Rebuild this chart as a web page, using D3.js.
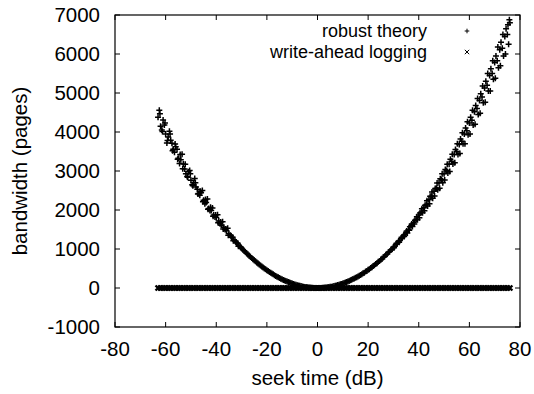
<!DOCTYPE html>
<html>
<head>
<meta charset="utf-8">
<script src="https://cdn.jsdelivr.net/npm/d3@7"></script>
<style>
  body { margin: 0; background: #fff; }
  text { font-family: "Liberation Sans", Arial, sans-serif; fill: #000; }
</style>
</head>
<body>
<script>
// seek time (dB) values for the main sweep
const seekTimes = [-63,-62,-61,-60,-59,-58,-57,-56,-55,-54,-53,-52,-51,-50,-49,-48,-47,-46,-45,-44,
  -43,-42,-41,-40,-39,-38,-37,-36,-35,-34,-33,-32,-31,-30,-29,-28,-27,-26,-25,-24,
  -23,-22,-21,-20,-19,-18,-17,-16,-15,-14,-13,-12,-11,-10,-9,-8,-7,-6,-5,-4,
  -3,-2,-1,0,1,2,3,4,5,6,7,8,9,10,11,12,13,14,15,16,
  17,18,19,20,21,22,23,24,25,26,27,28,29,30,31,32,33,34,35,36,
  37,38,39,40,41,42,43,44,45,46,47,48,49,50,51,52,53,54,55,56,
  57,58,59,60,61,62,63,64,65,66,67,68,69,70,71,72,73,74,75,76];

// robust theory bandwidth at each seek time
const robustBandwidth = [4380,4150,4310,3950,3870,3790,3560,3620,3330,3290,3180,2930,2980,2760,2700,2590,2420,2440,2250,2190,
  2040,1990,1870,1810,1720,1610,1560,1470,1390,1300,1240,1160,1090,1020,955,890,830,768,712,655,
  602,552,500,455,410,370,329,290,256,222,192,164,138,114,92,73,56,41,28,18,
  10,5,1,0,1,5,10,18,29,41,57,75,94,116,141,168,196,228,262,297,
  336,377,420,466,512,563,615,670,726,790,845,915,975,1050,1120,1190,1270,1340,1430,1500,
  1600,1680,1760,1870,1950,2060,2140,2260,2350,2480,2560,2700,2780,2930,3010,3170,3250,3420,3500,3680,
  3760,3950,4030,4230,4300,4520,4600,4810,4900,5130,5200,5450,5500,5780,5830,6110,6150,6450,6500,6800];

// more robust theory samples between the whole steps
const robustHalfSeek = [-62.5,-61.5,-60.5,-59.5,-58.5,-57.5,-56.5,-55.5,-54.5,-53.5,-52.5,-51.5,-50.5,-49.5,
  -48.5,-47.5,-46.5,-45.5,-44.5,-43.5,-42.5,-41.5,-40.5,-39.5,-38.5,-37.5,-36.5,-35.5,
  -34.5,-33.5,-32.5,-31.5,-30.5,-29.5,-28.5,-27.5,-26.5,-25.5,-24.5,-23.5,-22.5,-21.5,-20.5,-19.5,
  -18.5,-17.5,-16.5,-15.5,-14.5,-13.5,-12.5,-11.5,-10.5,-9.5,-8.5,-7.5,-6.5,-5.5,-4.5,-3.5,-2.5,-1.5,-0.5,
  0.5,1.5,2.5,3.5,4.5,5.5,6.5,7.5,8.5,9.5,10.5,11.5,12.5,13.5,14.5,15.5,16.5,17.5,18.5,19.5,
  20.5,21.5,22.5,23.5,24.5,25.5,26.5,27.5,28.5,29.5,30.5,31.5,32.5,33.5,34.5,
  35.5,36.5,37.5,38.5,39.5,40.5,41.5,42.5,43.5,44.5,45.5,46.5,47.5,48.5,49.5,50.5,51.5,52.5,
  53.5,54.5,55.5,56.5,57.5,58.5,59.5,60.5,61.5,62.5,63.5,64.5,65.5,66.5,67.5,68.5,69.5,70.5,
  71.5,72.5,73.5,74.5,75.5,75.8];
const robustHalfBandwidth = [4560,4050,4180,3720,4020,3710,3480,3560,3190,3430,3050,2860,3010,2650,
  2810,2530,2380,2500,2160,2280,1990,2050,1820,1880,1650,1700,1500,1530,
  1350,1300,1200,1150,1060,990,925,860,800,740,685,630,578,528,480,433,
  390,350,310,274,240,208,178,151,126,103,83,65,49,35,23,14,7,3,0,
  0,3,7,14,23,35,49,65,83,104,127,152,180,210,242,276,313,352,394,437,
  483,532,582,635,690,748,808,870,934,1001,1070,1141,1215,1291,1369,
  1410,1570,1580,1740,1750,1920,1930,2120,2100,2350,2300,2550,2520,2800,2700,3040,2950,3300,
  3180,3550,3420,3820,3700,4100,3930,4380,4180,4680,4450,4980,4750,5300,5050,5620,5350,5950,
  5650,6300,5950,6650,6250,6880];

// scattered robust theory samples on the outer arms
const robustOuterSeek = [-62.25,-61.25,-60.25,-59.25,-58.25,-57.25,-56.25,-55.25,-54.25,-53.25,-52.25,
  -51.25,-50.25,-49.25,-48.25,-47.25,-46.25,-45.25,-44.25,-43.25,-42.25,-41.25,-40.25,-39.25,-38.25,
  -37.25,-36.25,-35.25,-34.25,-33.25,-32.25,-31.25,-30.25,
  30.25,31.25,32.25,33.25,34.25,35.25,36.25,37.25,38.25,39.25,40.25,41.25,42.25,43.25,44.25,45.25,
  46.25,47.25,48.25,49.25,50.25,51.25,52.25,53.25,54.25,55.25,56.25,57.25,58.25,59.25,60.25,61.25,
  62.25,63.25,64.25,65.25,66.25,67.25,68.25,69.25,70.25,71.25,72.25,73.25,74.25,75.25];
const robustOuterBandwidth = [4470,4010,4230,3780,3950,3520,3690,3300,3420,3060,3170,
  2840,2930,2620,2700,2410,2480,2210,2270,2020,2070,1840,1870,1670,1690,
  1510,1510,1350,1340,1210,1180,1070,1040,
  1030,1150,1170,1300,1320,1460,1480,1640,1640,1830,1800,2030,1980,2240,2160,2460,
  2360,2690,2560,2930,2770,3170,2990,3430,3210,3700,3450,3980,3700,4260,3950,4560,
  4200,4860,4480,5180,4760,5500,5050,5830,5380,6180,5700,6500,6000,6750];

// write-ahead logging stays flat at zero
const loggingBandwidth = [0,0,0,0,0,0,0,0,0,0,0,0,0,0,0,0,0,0,0,0,
  0,0,0,0,0,0,0,0,0,0,0,0,0,0,0,0,0,0,0,0,
  0,0,0,0,0,0,0,0,0,0,0,0,0,0,0,0,0,0,0,0,
  0,0,0,0,0,0,0,0,0,0,0,0,0,0,0,0,0,0,0,0,
  0,0,0,0,0,0,0,0,0,0,0,0,0,0,0,0,0,0,0,0,
  0,0,0,0,0,0,0,0,0,0,0,0,0,0,0,0,0,0,0,0,
  0,0,0,0,0,0,0,0,0,0,0,0,0,0,0,0,0,0,0,0];

const xTicks = [-80,-60,-40,-20,0,20,40,60,80];
const yTicks = [-1000,0,1000,2000,3000,4000,5000,6000,7000];
const seriesNames = ["robust theory", "write-ahead logging"];

const W = 534, H = 394;
const margin = {top: 15, right: 14, bottom: 67, left: 115};
const fs = 20.5;

const svg = d3.select("body").append("svg")
    .attr("width", W)
    .attr("height", H);

const x = d3.scaleLinear().domain([-80, 80]).range([margin.left, W - margin.right]);
const y = d3.scaleLinear().domain([-1000, 7000]).range([H - margin.bottom, margin.top]);

// inward ticks on all four sides (gnuplot style)
const tk = 5;
const g = svg.append("g");
xTicks.forEach(t => {
  g.append("line").attr("x1", x(t)).attr("x2", x(t))
    .attr("y1", y(-1000)).attr("y2", y(-1000) - tk).attr("stroke", "#000");
  g.append("line").attr("x1", x(t)).attr("x2", x(t))
    .attr("y1", y(7000)).attr("y2", y(7000) + tk).attr("stroke", "#000");
  g.append("text").attr("x", x(t)).attr("y", y(-1000) + 29)
    .attr("text-anchor", "middle").style("font-size", fs + "px").text(t);
});
yTicks.forEach(t => {
  g.append("line").attr("x1", x(-80)).attr("x2", x(-80) + tk)
    .attr("y1", y(t)).attr("y2", y(t)).attr("stroke", "#000");
  g.append("line").attr("x1", x(80)).attr("x2", x(80) - tk)
    .attr("y1", y(t)).attr("y2", y(t)).attr("stroke", "#000");
  g.append("text").attr("x", x(-80) - 15).attr("y", y(t)).attr("dy", "0.35em")
    .attr("text-anchor", "end").style("font-size", fs + "px").text(t);
});

svg.append("rect")
    .attr("x", x(-80)).attr("y", y(7000))
    .attr("width", x(80) - x(-80)).attr("height", y(-1000) - y(7000))
    .attr("fill", "none").attr("stroke", "#000").attr("stroke-width", 1.2);

// markers
const plusPath = s => `M${-s},0H${s}M0,${-s}V${s}`;
const crossPath = s => `M${-s},${-s}L${s},${s}M${-s},${s}L${s},${-s}`;

const logging = seekTimes.map((d, i) => [d, loggingBandwidth[i]]);
svg.append("g").selectAll("path")
  .data(logging).enter().append("path")
    .attr("transform", d => `translate(${x(d[0])},${y(d[1])})`)
    .attr("d", crossPath(2.5))
    .attr("stroke", "#000").attr("stroke-width", 2.4).attr("fill", "none");

const robust = seekTimes.map((d, i) => [d, robustBandwidth[i]])
  .concat(robustHalfSeek.map((d, i) => [d, robustHalfBandwidth[i]]))
  .concat(robustOuterSeek.map((d, i) => [d, robustOuterBandwidth[i]]));
svg.append("g").selectAll("path")
  .data(robust).enter().append("path")
    .attr("transform", d => `translate(${x(d[0])},${y(d[1])})`)
    .attr("d", plusPath(3))
    .attr("stroke", "#000").attr("stroke-width", 1.5).attr("fill", "none");

// legend
const legend = svg.append("g");
seriesNames.forEach((name, i) => {
  const ly = 31 + i * 21;
  legend.append("text").attr("x", 427).attr("y", ly).attr("dy", "0.35em")
    .attr("text-anchor", "end").style("font-size", "18px").text(name);
  legend.append("path")
    .attr("transform", `translate(467,${ly})`)
    .attr("d", i === 0 ? plusPath(2.3) : crossPath(2.2))
    .attr("stroke", "#000").attr("stroke-width", 1).attr("fill", "none");
});

// axis titles
svg.append("text")
    .attr("x", (x(-80) + x(80)) / 2).attr("y", 385)
    .attr("text-anchor", "middle").style("font-size", fs + "px")
    .text("seek time (dB)");

svg.append("text")
    .attr("transform", `translate(20,${(y(-1000) + y(7000)) / 2}) rotate(-90)`)
    .attr("dy", "0.35em")
    .attr("text-anchor", "middle").style("font-size", fs + "px")
    .text("bandwidth (pages)");
</script>
</body>
</html>
